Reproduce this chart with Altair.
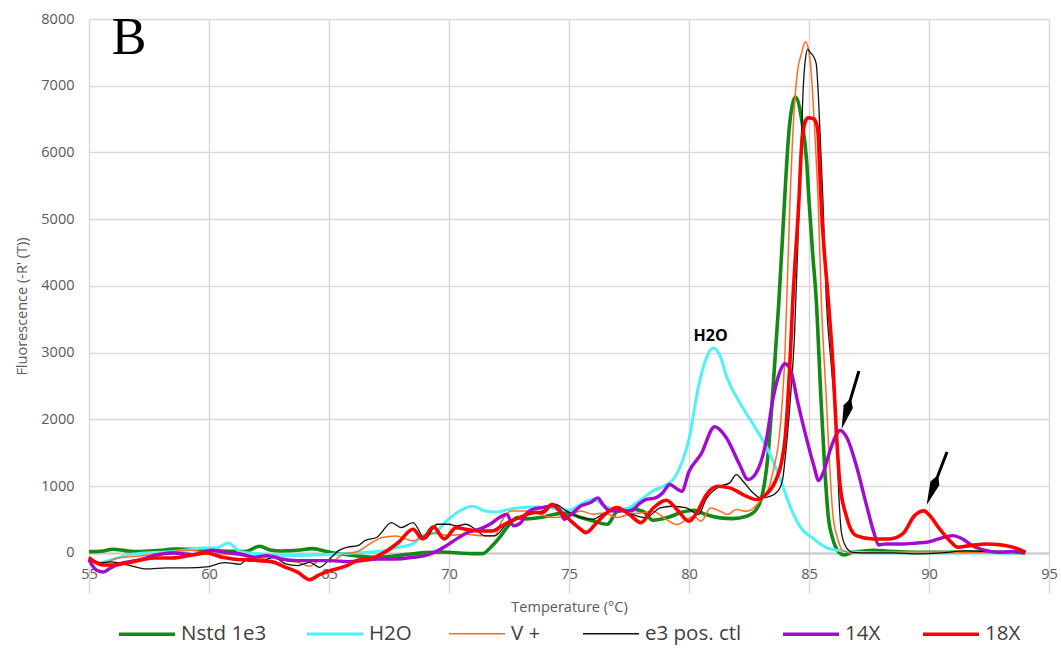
import altair as alt
import pandas as pd

series_names = ["Nstd 1e3", "H2O", "V  +", "e3 pos. ctl", "14X", "18X"]
series_colors = ["#138a13", "#4ff2f6", "#ff6b26", "#111111", "#a20bd0", "#ff0000"]
series_widths = [3.6, 3.0, 1.5, 1.3, 3.4, 3.6]

nstd_t = [55.0, 55.5, 56.0, 56.5, 57.0, 57.5, 58.0, 58.5, 59.0, 59.5, 60.0, 60.5, 61.0, 61.5, 62.1, 62.6,
          63.0, 63.7, 64.3, 64.8, 65.2, 65.6, 66.2, 66.9, 67.6, 68.3, 69.0, 69.7, 70.4, 71.0, 71.4, 71.75,
          72.1, 72.5, 72.85, 73.2, 73.8, 74.4, 74.9, 75.5, 76.0, 76.6, 77.0, 77.6, 78.1, 78.5, 79.1, 79.7,
          80.2, 80.7, 81.3, 81.8, 82.4, 82.8, 83.1, 83.3, 83.45, 83.6, 83.75, 84.0, 84.1, 84.2, 84.3, 84.43,
          84.7, 84.9, 85.0, 85.15, 85.3, 85.5, 85.65, 85.8, 86.0, 86.25, 86.45, 86.8, 87.3, 87.7, 88.3, 89.0,
          90.0, 91.0, 92.0, 93.0, 94.0]
nstd_v = [20, 25, 55, 35, 20, 30, 40, 60, 55, 55, 40, 30, 25, 20, 100, 40,
          30, 40, 65, 30, 0, -20, -45, -65, -50, -20, 5, 15, 0, -10, -10, 90,
          230, 420, 530, 510, 530, 580, 600, 530, 480, 430, 620, 660, 620, 490, 530, 610,
          640, 575, 525, 515, 550, 650, 950, 1500, 2200, 3000, 3800, 5400, 6000, 6450, 6700, 6830,
          6480, 5880, 5280, 4500, 3800, 2300, 1300, 560, 200, 10, -30, 10, 30, 40, 25, 15,
          10, 10, 15, 10, 5]

h2o_t = [55.0, 55.4, 55.9, 56.6, 57.3, 58.2, 59.1, 59.75, 60.3, 60.8, 61.3, 62.2, 63.4, 64.5, 65.4, 66.5,
         67.3, 67.9, 68.5, 68.9, 69.4, 69.9, 70.5, 71.0, 71.5, 72.0, 72.5, 73.0, 73.5, 74.0, 74.5, 75.0,
         75.5, 76.0, 76.5, 77.0, 77.5, 78.0, 78.5, 79.0, 79.4, 79.7, 80.0, 80.4, 80.7, 81.0, 81.3, 81.55,
         82.1, 82.7, 83.2, 83.8, 84.2, 84.6, 85.2, 85.7, 86.3, 87.0, 88.0, 90.0, 92.0, 94.0]
h2o_v = [-60, -150, -105, -30, 0, 15, 45, 75, 75, 150, 20, -15, -40, -30, -15, 10,
         35, 85, 135, 260, 300, 480, 640, 700, 630, 615, 650, 680, 690, 690, 660, 640,
         730, 800, 700, 650, 680, 800, 930, 1010, 1130, 1350, 1710, 2500, 2900, 3070, 2950, 2660,
         2260, 1910, 1610, 1110, 710, 410, 210, 85, 35, 10, 0, 0, 0, 0]

vp_t = [55.0, 55.6, 56.2, 56.8, 57.5, 58.2, 59.1, 59.5, 59.9, 60.7, 61.3, 62.1, 62.7, 63.2, 63.7, 64.2,
        64.6, 65.1, 65.6, 66.1, 66.7, 67.2, 67.8, 68.5, 68.9, 69.4, 70.0, 70.7, 71.4, 71.9, 72.2, 72.6,
        73.2, 73.8, 74.3, 74.9, 75.5, 76.0, 76.5, 77.0, 77.6, 78.0, 78.5, 79.06, 79.5, 79.9, 80.2, 80.5,
        80.9, 81.3, 81.6, 81.97, 82.4, 82.7, 83.1, 83.3, 83.55, 83.75, 84.0, 84.2, 84.36, 84.5, 84.7, 84.85,
        85.03, 85.17, 85.28, 85.38, 85.51, 85.72, 85.86, 86.0, 86.2, 86.4, 86.8, 88.0, 90.0, 92.0, 94.0]
vp_v = [-90, -150, -75, -55, -30, 5, 45, 30, -15, -15, -40, -90, -40, -115, -140, -200,
        -115, -130, -15, 10, 135, 230, 255, 180, 255, 295, 260, 282, 257, 257, 480, 630,
        630, 580, 530, 550, 630, 580, 600, 530, 590, 600, 625, 500, 425, 500, 550, 475,
        675, 625, 575, 650, 625, 675, 850, 950, 1300, 1700, 3000, 5200, 6500, 7150, 7500, 7660,
        7430, 6780, 6030, 5280, 3810, 2310, 1310, 560, 210, 35, 0, 0, 0, 5, 0]

e3_t = [55.0, 55.46, 55.9, 56.6, 57.4, 58.25, 59.1, 59.9, 60.65, 61.3, 61.6, 62.2, 62.7, 63.2, 63.7, 64.2,
        64.6, 65.1, 65.4, 65.75, 66.2, 66.5, 67.0, 67.6, 68.0, 68.5, 69.0, 69.5, 70.0, 70.3, 70.7, 71.1,
        71.5, 71.9, 72.4, 72.8, 73.4, 73.9, 74.4, 74.9, 75.5, 76.0, 76.4, 77.0, 77.6, 78.2, 78.8, 79.3,
        79.9, 80.4, 80.7, 81.3, 81.7, 81.97, 82.25, 82.6, 83.0, 83.4, 83.7, 83.9, 84.0, 84.2, 84.4, 84.55,
        84.65, 84.75, 84.85, 84.95, 85.05, 85.17, 85.3, 85.4, 85.49, 85.58, 85.72, 85.93, 86.14, 86.25, 86.35, 86.55,
        86.83, 87.5, 88.5, 89.5, 90.5, 91.5, 92.5, 93.5, 94.0]
e3_v = [-60, -150, -135, -180, -240, -225, -225, -210, -145, -170, -90, -115, -65, -165, -190, -140,
        -215, -65, 35, 85, 110, 185, 235, 455, 380, 455, 210, 430, 430, 405, 430, 355,
        257, 257, 430, 505, 580, 630, 730, 630, 530, 505, 580, 650, 580, 530, 675, 700,
        675, 575, 800, 1000, 1050, 1175, 1075, 925, 825, 850, 925, 1100, 1400, 2200, 3300, 4800,
        5900, 6900, 7400, 7550, 7500, 7450, 7330, 6780, 6030, 5280, 3810, 2810, 1810, 810, 310, 85,
        10, 0, 0, -15, 0, 30, 20, 10, 0]

x14_t = [55.0, 55.3, 55.6, 55.9, 56.4, 57.1, 57.8, 58.5, 59.3, 59.8, 60.1, 60.65, 61.3, 61.9, 62.4, 63.0,
         63.7, 64.5, 65.1, 65.75, 66.4, 67.0, 67.8, 68.5, 69.0, 69.4, 69.9, 70.4, 70.8, 71.3, 71.7, 72.1,
         72.4, 72.7, 73.0, 73.2, 73.5, 73.9, 74.3, 74.6, 74.8, 75.1, 75.5, 75.9, 76.2, 76.4, 76.7, 77.1,
         77.6, 77.9, 78.2, 78.6, 78.9, 79.2, 79.5, 79.7, 80.0, 80.5, 81.07, 81.55, 82.1, 82.46, 82.8, 83.2,
         83.5, 83.78, 84.0, 84.26, 84.5, 84.9, 85.2, 85.4, 85.6, 85.9, 86.3, 86.6, 86.97, 87.4, 87.7, 87.9,
         88.2, 88.9, 89.5, 89.9, 90.4, 91.0, 91.4, 91.8, 92.4, 92.9, 93.5, 94.0]
x14_v = [-100, -255, -285, -225, -150, -105, -30, 0, -25, 15, 40, 10, -15, -65, -40, -90,
         -115, -115, -115, -130, -115, -90, -90, -65, -40, 10, 110, 230, 310, 360, 430, 530,
         580, 405, 455, 580, 655, 680, 705, 655, 505, 580, 705, 755, 825, 730, 630, 630,
         630, 730, 800, 825, 900, 1025, 960, 925, 1220, 1480, 1890, 1730, 1330, 1100, 1200, 1650,
         2310, 2710, 2835, 2710, 2310, 1710, 1310, 1085, 1210, 1560, 1835, 1710, 1310, 710, 310, 120,
         135, 135, 150, 160, 210, 260, 210, 110, 35, 10, 20, 0]

x18_t = [55.0, 55.6, 56.0, 56.8, 57.7, 58.5, 59.3, 59.9, 60.5, 61.0, 61.9, 62.6, 63.2, 63.7, 64.2, 64.55,
         65.1, 65.75, 66.2, 66.7, 67.2, 67.9, 68.5, 68.9, 69.35, 69.8, 70.3, 70.7, 71.3, 71.8, 72.2, 72.6,
         73.1, 73.5, 73.9, 74.3, 74.6, 75.0, 75.4, 75.7, 76.1, 76.5, 77.0, 77.5, 78.0, 78.5, 79.05, 79.5,
         80.0, 80.4, 80.7, 81.2, 81.7, 82.25, 82.8, 83.2, 83.6, 83.85, 84.0, 84.2, 84.33, 84.58, 84.68, 84.82,
         84.96, 85.17, 85.3, 85.38, 85.44, 85.5, 85.8, 86.0, 86.14, 86.28, 86.55, 86.97, 87.67, 88.36, 88.9, 89.4,
         89.8, 90.03, 90.44, 90.86, 91.2, 91.7, 92.4, 92.9, 93.5, 94.03]
x18_v = [-75, -180, -180, -135, -75, -75, -30, 0, -60, -90, -110, -130, -215, -290, -400, -335,
         -260, -190, -110, -90, -15, 160, 355, 210, 390, 210, 380, 355, 330, 330, 405, 480,
         555, 605, 605, 730, 630, 505, 380, 305, 430, 580, 680, 580, 455, 670, 790, 650,
         475, 650, 860, 1000, 975, 875, 800, 875, 1075, 1350, 1700, 2810, 3810, 5285, 6035, 6435,
         6520, 6510, 6445, 6285, 5785, 5285, 3810, 2810, 1810, 1060, 560, 260, 210, 210, 285, 560,
         630, 560, 360, 185, 85, 110, 135, 125, 85, 10]

x_ticks = [55, 60, 65, 70, 75, 80, 85, 90, 95]
y_ticks = [0, 1000, 2000, 3000, 4000, 5000, 6000, 7000, 8000]

# annotations (data units)
panel_label = ["B"]
panel_label_t = [55.95]
panel_label_v = [7470]
peak_label = ["H2O"]
peak_label_t = [80.9]
peak_label_v = [3250]
arrow_tail_t = [87.08, 90.75]
arrow_tail_v = [2726, 1513]
arrow_head_t = [86.55, 90.14]
arrow_head_v = [2088, 944]
arrow_angle = [16.6, 21.0]

all_t = [nstd_t, h2o_t, vp_t, e3_t, x14_t, x18_t]
all_v = [nstd_v, h2o_v, vp_v, e3_v, x14_v, x18_v]
rows = []
for name, ts, vs in zip(series_names, all_t, all_v):
    for i, (t, v) in enumerate(zip(ts, vs)):
        rows.append({"series": name, "temp": t, "fluor": v, "idx": i})
df = pd.DataFrame(rows)

FONT = "Open Sans"
GRID = "#d9d9d9"
LBL = "#595959"

xscale = alt.Scale(domain=[55, 95], nice=False, zero=False)
yscale = alt.Scale(domain=[-600, 8000], nice=False, zero=False)

legend = alt.Legend(
    orient="none", legendX=28, legendY=585, direction="horizontal", columns=6,
    title=None, symbolType="stroke", symbolSize=3136, labelFont=FONT, labelFontSize=20.5,
    labelColor="#404040", columnPadding=34, labelOffset=4, padding=0,
)

lines = alt.Chart(df).mark_line(interpolate="monotone").encode(
    x=alt.X("temp:Q", scale=xscale, axis=alt.Axis(
        values=x_ticks, title="Temperature (°C)", offset=-40, grid=True, gridColor=GRID,
        gridWidth=1.5, domainColor="#c8c8c8", domainWidth=2, ticks=False, labelPadding=14,
        labelFont=FONT, labelFontSize=14.5, labelColor=LBL, labelFlush=False,
        titleFont=FONT, titleFontSize=14.5, titleFontWeight="normal", titleColor=LBL, titlePadding=20)),
    y=alt.Y("fluor:Q", scale=yscale, axis=alt.Axis(
        values=y_ticks, format="d", title="Fluorescence (-R' (T))", grid=True, gridColor=GRID,
        gridWidth=1.5, domain=False, ticks=False, labelPadding=15, labelFont=FONT,
        labelFontSize=14.5, labelColor=LBL, labelFlush=False, titleFont=FONT, titleFontSize=14.5,
        titleFontWeight="normal", titleColor=LBL, titlePadding=11)),
    color=alt.Color("series:N", scale=alt.Scale(domain=series_names, range=series_colors),
                    legend=legend, title=None),
    strokeWidth=alt.StrokeWidth("series:N", scale=alt.Scale(type="ordinal", domain=series_names,
                                                            range=series_widths),
                                legend=legend, title=None),
    order=alt.Order("idx:Q"),
)

label_df = pd.DataFrame({"t": panel_label_t, "v": panel_label_v, "txt": panel_label})
b_text = alt.Chart(label_df).mark_text(
    font="Liberation Serif", fontSize=52, align="left", baseline="alphabetic", color="black"
).encode(x=alt.X("t:Q", scale=xscale), y=alt.Y("v:Q", scale=yscale), text="txt:N")

peak_df = pd.DataFrame({"t": peak_label_t, "v": peak_label_v, "txt": peak_label})
h_text = alt.Chart(peak_df).mark_text(
    font=FONT, fontSize=16, fontWeight="bold", align="center", baseline="middle", color="black"
).encode(x=alt.X("t:Q", scale=xscale), y=alt.Y("v:Q", scale=yscale), text="txt:N")

arrow_df = pd.DataFrame({"t0": arrow_tail_t, "v0": arrow_tail_v, "t1": arrow_head_t,
                         "v1": arrow_head_v, "ang": arrow_angle})
shafts = alt.Chart(arrow_df).mark_rule(color="black", strokeWidth=3).encode(
    x=alt.X("t0:Q", scale=xscale), y=alt.Y("v0:Q", scale=yscale), x2="t1:Q", y2="v1:Q")
heads = alt.Chart(arrow_df).mark_point(
    shape="M0,1L-0.3,-0.45L0,-1L0.3,-0.45Z", filled=True, size=1024, color="black", opacity=1
).encode(x=alt.X("t1:Q", scale=xscale), y=alt.Y("v1:Q", scale=yscale),
         angle=alt.Angle("ang:Q", scale=None))

chart = alt.layer(lines, b_text, h_text, shafts, heads).properties(
    width=960, height=574,
    padding={"left": 89, "top": 19, "right": 12, "bottom": 60},
    autosize=alt.AutoSizeParams(type="none"),
    background="white",
).configure_view(stroke=None)

chart.save("out.html", embed_options={"renderer": "svg", "actions": False})
